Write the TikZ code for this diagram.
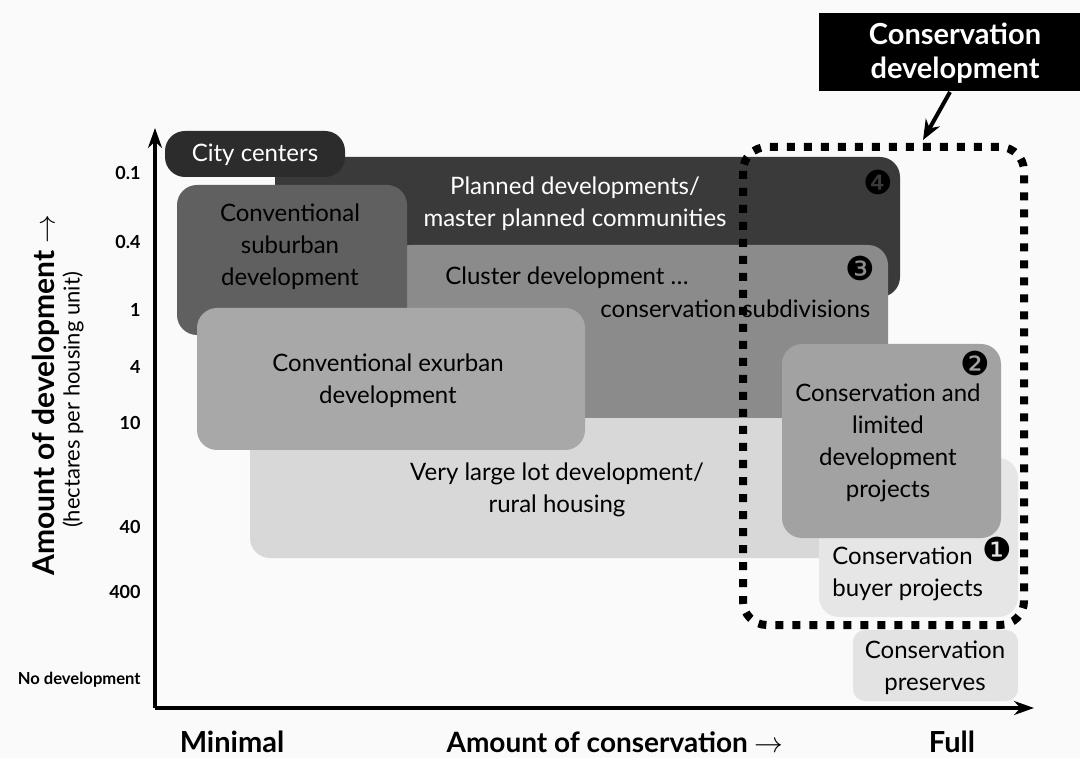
\documentclass[tikz,border=0pt]{standalone}
\usepackage{fontspec}
\setmainfont{Lato}
\newfontfamily\dingfont{DejaVu Sans}
\usetikzlibrary{arrows.meta}

\definecolor{bgcol}{HTML}{FAFAFA}
\definecolor{citycol}{HTML}{2C2C2C}
\definecolor{plancol}{HTML}{3A3A3A}
\definecolor{subcol}{HTML}{606060}
\definecolor{clustcol}{HTML}{8B8B8B}
\definecolor{exurbcol}{HTML}{A8A8A8}
\definecolor{lotcol}{HTML}{D8D8D8}
\definecolor{limcol}{HTML}{A2A2A2}
\definecolor{buyercol}{HTML}{E6E6E6}
\definecolor{prescol}{HTML}{E3E3E3}

\begin{document}
\begin{tikzpicture}[x=0.5pt, y=-0.5pt,
    region/.style={rounded corners=10pt},
    boxtext/.style={align=center, inner sep=0pt, text=black,
      font=\fontsize{12}{16}\selectfont},
    darktext/.style={boxtext, text=white},
    badge/.style={inner sep=0pt, font=\dingfont\fontsize{16.5}{16.5}\selectfont},
    tick/.style={anchor=east, inner sep=0pt, font=\bfseries\fontsize{9}{10}\selectfont},
    axislab/.style={inner sep=0pt, font=\bfseries\fontsize{14}{14}\selectfont},
    axis/.style={line width=2pt, -{Stealth[length=10pt, width=7pt]}}]
    \useasboundingbox (0,0) rectangle (1080,758);
    \fill[bgcol] (0,0) rectangle (1080,758);

    % regions, back to front
    \fill[lotcol, region] (250,400) rectangle (840,558);
    \fill[plancol, region] (275,157) rectangle (900,297);
    \fill[citycol, region] (165,131) rectangle (345,177);
    \fill[clustcol, region] (390,245) rectangle (888,418);
    \fill[subcol, region] (177,185) rectangle (407,335);
    \fill[exurbcol, region] (197,308) rectangle (585,450);
    \fill[buyercol, region] (819,458) rectangle (1018,617);
    \fill[limcol, region] (782,344) rectangle (1001,538);
    \fill[prescol, rounded corners=6pt] (853,630) rectangle (1018,701);

    % region labels
    \node[darktext] (city) at (255,155) {City centers};
    \node[darktext] (planned) at (575,204) {Planned developments/\\master planned communities};
    \node[boxtext] (suburban) at (290,247) {Conventional\\suburban\\development};
    \node[boxtext, anchor=west] (cluster) at (445,278) {Cluster development \dots};
    \node[boxtext, anchor=west] (subdiv) at (600,309) {conservation subdivisions};
    \node[boxtext] (exurban) at (388,381) {Conventional exurban\\development};
    \node[boxtext] (verylarge) at (557,490) {Very large lot development/\\rural housing};
    \node[boxtext] (limited) at (888,443) {Conservation and\\limited\\development\\projects};
    \node[boxtext, align=left, anchor=west] (buyer) at (832,574) {Conservation\\buyer projects};
    \node[boxtext] (preserves) at (935,668) {Conservation\\preserves};

    % numbered badges
    \node[badge] (four) at (878,182) {❹};
    \node[badge] (three) at (860,268) {❸};
    \node[badge] (two) at (975,363) {❷};
    \node[badge] (one) at (997,549) {❶};

    % axes
    \coordinate (origin) at (155,708);
    \coordinate (ytop) at (155,128);
    \coordinate (xend) at (1034,708);
    \draw[axis] (origin) -- (ytop);
    \draw[axis] (origin) -- (xend);

    % ticks on the development axis
    \node[tick] (t01) at (141,173) {0.1};
    \node[tick] (t04) at (141,242) {0.4};
    \node[tick] (t1) at (141,310) {1};
    \node[tick] (t4) at (141,367) {4};
    \node[tick] (t10) at (141,423) {10};
    \node[tick] (t40) at (141,527) {40};
    \node[tick] (t400) at (141,592) {400};
    \node[tick, font=\bfseries\fontsize{8.3}{10}\selectfont] (tnone) at (141,680) {No development};

    % axis titles
    \node[axislab, rotate=90, font=\bfseries\fontsize{15}{15}\selectfont] (ytitle) at (46,395) {Amount of development $\rightarrow$};
    \node[inner sep=0pt, rotate=90, font=\fontsize{11}{11}\selectfont] (yunit) at (73,400) {(hectares per housing unit)};
    \node[axislab, font=\bfseries\fontsize{14.5}{14.5}\selectfont] (minimal) at (232,742) {Minimal};
    \node[axislab] (xtitle) at (615,742) {Amount of conservation $\rightarrow$};
    \node[axislab, font=\bfseries\fontsize{14.5}{14.5}\selectfont] (full) at (952,742) {Full};

    % conservation development frame
    \draw[line width=4pt, dash pattern=on 4pt off 4.5pt, rounded corners=12pt]
        (743,147) rectangle (1024,625);
    \fill[black] (819,13) rectangle (1080,91);
    \node[darktext, font=\bfseries\fontsize{14.5}{17}\selectfont] (condev) at (955,53) {Conservation\\development};
    \coordinate (frametop) at (923,140);
    \draw[line width=2pt, -{Stealth[length=10pt, width=8pt]}] (950,92) -- (frametop);
\end{tikzpicture}
\end{document}
